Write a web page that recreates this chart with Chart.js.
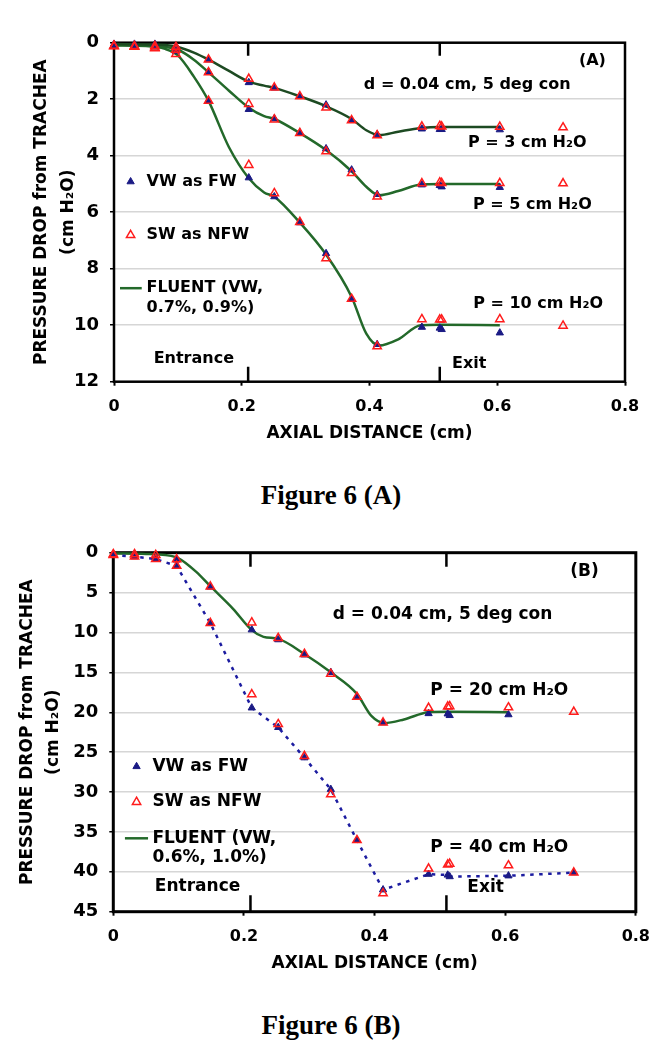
<!DOCTYPE html>
<html><head><meta charset="utf-8">
<script src="https://cdn.jsdelivr.net/npm/chart.js@4.4.1/dist/chart.umd.min.js"></script>
<style>
html,body{margin:0;padding:0;background:#fff;}
body{width:662px;height:1050px;position:relative;overflow:hidden;}
canvas{position:absolute;left:0;}
#cA{top:0;}
#cB{top:530px;}
.cap{position:absolute;left:0;width:662px;text-align:center;font-family:"Liberation Serif","Times New Roman",serif;font-weight:bold;font-size:27px;line-height:30px;}
</style></head><body>
<canvas id="cA" width="662" height="470"></canvas>
<canvas id="cB" width="662" height="470"></canvas>
<div class="cap" style="top:480px">Figure 6 (A)</div>
<div class="cap" style="top:1010px">Figure 6 (B)</div>
<script>
// ---------- DATA ----------
const xTicks = [0, 0.2, 0.4, 0.6, 0.8];
const yTicksA = [0, 2, 4, 6, 8, 10, 12];
const yTicksB = [0, 5, 10, 15, 20, 25, 30, 35, 40, 45];
const markX = [0.21, 0.51]; // Entrance / Exit

// Panel A measured points
const xA = [0, 0.032, 0.064, 0.097, 0.148, 0.211, 0.251, 0.291, 0.332, 0.372, 0.412, 0.482, 0.510, 0.513, 0.604, 0.703];
const vwA3  = [0.05, 0.05, 0.05, 0.12, 0.60, 1.41, 1.60, 1.90, 2.20, 2.75, 3.25, 3.05, 3.07, 3.07, 3.08, null];
const swA3  = [0.12, 0.12, 0.12, 0.15, 0.60, 1.28, 1.59, 1.90, 2.30, 2.75, 3.28, 2.97, 2.95, 2.97, 2.98, 3.00];
const vwA5  = [0.08, 0.10, 0.12, 0.20, 1.03, 2.36, 2.69, 3.19, 3.75, 4.50, 5.37, 5.03, 5.05, 5.10, 5.12, null];
const swA5  = [0.12, 0.15, 0.18, 0.25, 1.05, 2.17, 2.72, 3.20, 3.85, 4.62, 5.45, 4.98, 4.95, 4.97, 4.97, 4.98];
const vwA10 = [0.10, 0.12, 0.15, 0.30, 2.06, 4.78, 5.45, 6.37, 7.46, 9.07, 10.68, 10.07, 10.10, 10.15, 10.27, null];
const swA10 = [0.12, 0.15, 0.20, 0.40, 2.06, 4.33, 5.33, 6.35, 7.63, 9.07, 10.75, 9.79, 9.80, 9.80, 9.79, 10.02];

// Panel A FLUENT curves
const fluentXA = [0, 0.05, 0.08, 0.1, 0.125, 0.148, 0.18, 0.211, 0.235, 0.251, 0.291, 0.332, 0.372, 0.395, 0.415, 0.445, 0.48, 0.51, 0.604];
const fluentA3  = [0.05, 0.06, 0.08, 0.15, 0.35, 0.60, 1.00, 1.38, 1.52, 1.60, 1.90, 2.25, 2.70, 3.10, 3.27, 3.15, 3.02, 2.98, 2.98];
const fluentA5  = [0.08, 0.10, 0.15, 0.25, 0.60, 1.05, 1.70, 2.30, 2.60, 2.70, 3.20, 3.80, 4.55, 5.10, 5.40, 5.25, 5.02, 5.00, 5.00];
const fluentA10 = [0.10, 0.12, 0.22, 0.45, 1.20, 2.06, 3.70, 4.80, 5.30, 5.45, 6.37, 7.50, 9.00, 10.30, 10.72, 10.50, 10.00, 9.98, 10.00];

// Panel B measured points
const xB = [0, 0.0325, 0.065, 0.097, 0.1486, 0.212, 0.2525, 0.2926, 0.333, 0.373, 0.413, 0.4827, 0.512, 0.515, 0.605, 0.705];
const vwB20 = [0.3, 0.3, 0.6, 0.9, 4.3, 9.66, 10.9, 12.8, 15.0, 18.1, 21.3, 20.16, 20.2, 20.4, 20.3, null];
const swB20 = [0.2, 0.2, 0.3, 0.83, 4.25, 8.75, 10.7, 12.7, 15.2, 18.08, 21.3, 19.45, 19.3, 19.25, 19.4, 19.95];
const vwB40 = [0.3, 0.5, 0.8, 1.66, 8.83, 19.45, 21.9, 25.7, 29.66, 36.04, 42.25, 40.3, 40.4, 40.6, 40.5, 40.1];
const swB40 = [0.3, 0.5, 0.8, 1.66, 8.83, 17.75, 21.5, 25.5, 30.3, 36.04, 42.7, 39.6, 39.1, 39.0, 39.2, 40.1];

// Panel B FLUENT curve (P = 20)
const fluentXB = [0, 0.05, 0.08, 0.1, 0.127, 0.1486, 0.183, 0.212, 0.23, 0.2525, 0.2926, 0.333, 0.373, 0.3955, 0.415, 0.445, 0.4827, 0.512, 0.605];
const fluentB20 = [0.1, 0.15, 0.3, 0.7, 2.4, 4.2, 7.0, 9.7, 10.55, 10.8, 12.7, 15.0, 17.7, 20.5, 21.35, 20.9, 20.0, 19.95, 20.0];

// ---------- STYLE ----------
const FONT = '"DejaVu Sans", Verdana, sans-serif';
const NAVY = '#1a1a84';
const RED = '#ff1c1c';
const GREEN = '#23692a';
const GREEN_DARK = '#1d4a22';

Chart.defaults.font.family = FONT;
Chart.defaults.font.weight = 'bold';
Chart.defaults.color = '#000';

function pts(xs, ys) {
  const out = [];
  xs.forEach((x, i) => { if (ys[i] !== null && ys[i] !== undefined) out.push({x: x, y: ys[i]}); });
  return out;
}
function vwSet(xs, ys, extra) {
  return Object.assign({data: pts(xs, ys), pointStyle: 'triangle', pointRadius: 4.2,
    pointBackgroundColor: NAVY, pointBorderColor: NAVY, pointBorderWidth: 1, showLine: false,
    order: 1, clip: false}, extra || {});
}
function swSet(xs, ys) {
  return {data: pts(xs, ys), pointStyle: 'triangle', pointRadius: 4.8,
    pointBackgroundColor: 'rgba(255,255,255,0)', pointBorderColor: RED, pointBorderWidth: 1.5,
    showLine: false, order: 0, clip: false};
}
function lineSet(xs, ys, color) {
  return {data: pts(xs, ys), showLine: true, pointRadius: 0, borderColor: color, borderWidth: 2.5,
    cubicInterpolationMode: 'monotone', order: 2, clip: false};
}

function tri(ctx, x, y, r, fill, stroke, lw) {
  ctx.beginPath();
  for (let k = 0; k < 3; k++) {
    const a = k * 2 * Math.PI / 3;
    const px = x + Math.sin(a) * r, py = y - Math.cos(a) * r;
    if (k) ctx.lineTo(px, py); else ctx.moveTo(px, py);
  }
  ctx.closePath();
  if (fill) { ctx.fillStyle = fill; ctx.fill(); }
  if (stroke) { ctx.strokeStyle = stroke; ctx.lineWidth = lw; ctx.stroke(); }
}

function annotPlugin(o) {
  return {
    id: 'annot',
    beforeDatasetsDraw(chart) {
      const {ctx, chartArea: a, scales: {x}} = chart;
      ctx.save();
      ctx.strokeStyle = '#000';
      ctx.lineWidth = o.frameW;
      ctx.strokeRect(a.left, a.top, a.right - a.left, a.bottom - a.top);
      ctx.lineWidth = 2.5;
      markX.forEach(v => {
        const px = x.getPixelForValue(v);
        ctx.beginPath();
        ctx.moveTo(px, a.top); ctx.lineTo(px, a.top + o.markTop);
        ctx.moveTo(px, a.bottom); ctx.lineTo(px, a.bottom - o.markBot);
        ctx.stroke();
      });
      ctx.restore();
    },
    afterDatasetsDraw(chart) {
      const {ctx, scales: {x, y}} = chart;
      ctx.save();
      ctx.fillStyle = '#000';
      ctx.textBaseline = 'middle';
      ctx.font = 'bold ' + o.txtSize + 'px ' + FONT;
      ctx.textAlign = 'center';
      o.texts.forEach(t => ctx.fillText(t.s, x.getPixelForValue(t.x), y.getPixelForValue(t.y)));
      // legend
      ctx.textAlign = 'left';
      const L = o.legend;
      const tx = x.getPixelForValue(L.textX);
      const mx = x.getPixelForValue(L.markX);
      let py = y.getPixelForValue(L.vwY);
      tri(ctx, mx, py, 4.2, NAVY, NAVY, 1);
      ctx.fillStyle = '#000';
      ctx.fillText('VW as FW', tx, py);
      py = y.getPixelForValue(L.swY);
      tri(ctx, mx, py, 4.8, null, RED, 1.5);
      ctx.fillStyle = '#000';
      ctx.fillText('SW as NFW', tx, py);
      py = y.getPixelForValue(L.flY);
      ctx.strokeStyle = GREEN; ctx.lineWidth = 2.5;
      ctx.beginPath();
      ctx.moveTo(x.getPixelForValue(L.lineX1), py); ctx.lineTo(x.getPixelForValue(L.lineX2), py);
      ctx.stroke();
      ctx.fillText(L.flText[0], tx, py);
      ctx.fillText(L.flText[1], tx, y.getPixelForValue(L.flY2));
      ctx.restore();
    }
  };
}

function makeChart(id, o) {
  return new Chart(document.getElementById(id), {
    type: 'scatter',
    data: {datasets: o.datasets},
    options: {
      responsive: false, animation: false, events: [],
      layout: {padding: {top: o.padTop, right: o.padRight, left: 0, bottom: 0}},
      plugins: {legend: {display: false}, tooltip: {enabled: false}},
      scales: {
        x: {
          type: 'linear', min: 0, max: 0.8,
          afterBuildTicks: s => { s.ticks = xTicks.map(v => ({value: v})); },
          afterFit: s => { s.height = o.xH; },
          grid: {drawOnChartArea: false, drawTicks: true, tickLength: 4, tickColor: '#000', tickWidth: 2},
          border: {display: false},
          ticks: {font: {size: 16, weight: 'bold'}, color: '#000', padding: 12, maxRotation: 0, autoSkip: false,
                  callback: v => String(v)},
          title: {display: true, text: 'AXIAL DISTANCE (cm)', color: '#000',
                  font: {size: 17, weight: 'bold', lineHeight: 1.2}, padding: {top: 0, bottom: 25.8}}
        },
        y: {
          type: 'linear', reverse: true, min: 0, max: o.yMax,
          afterBuildTicks: s => { s.ticks = o.yTicks.map(v => ({value: v})); },
          afterFit: s => { s.width = o.yW; },
          grid: {color: '#d6d6d6', lineWidth: 1.5, drawTicks: true, tickLength: 4, tickColor: '#000', tickWidth: 1.5},
          border: {display: false},
          ticks: {font: {size: 18, weight: 'bold'}, color: '#000', padding: 11, autoSkip: false,
                  callback: v => String(v)},
          title: {display: true, text: ['PRESSURE DROP from TRACHEA', '(cm H\u2082O)'], color: '#000',
                  font: {size: 17, weight: 'bold', lineHeight: 1.56}, padding: {top: o.yTitlePad, bottom: 0}}
        }
      }
    },
    plugins: [annotPlugin(o)]
  });
}

makeChart('cA', {
  padTop: 42.7, padRight: 37, xH: 88.3, yW: 114, yMax: 12, yTicks: yTicksA, yTitlePad: 28.6,
  frameW: 2.5, markTop: 13, markBot: 15, txtSize: 16,
  datasets: [
    lineSet(fluentXA, fluentA3, GREEN_DARK),
    lineSet(fluentXA, fluentA5, GREEN),
    lineSet(fluentXA, fluentA10, GREEN),
    vwSet(xA, vwA3), vwSet(xA, vwA5), vwSet(xA, vwA10),
    swSet(xA, swA3), swSet(xA, swA5), swSet(xA, swA10)
  ],
  texts: [
    {s: '(A)', x: 0.749, y: 0.65},
    {s: 'd = 0.04 cm, 5 deg con', x: 0.553, y: 1.5},
    {s: 'P = 3 cm H\u2082O', x: 0.647, y: 3.56},
    {s: 'P = 5 cm H\u2082O', x: 0.655, y: 5.75},
    {s: 'P = 10 cm H\u2082O', x: 0.664, y: 9.25},
    {s: 'Entrance', x: 0.125, y: 11.2},
    {s: 'Exit', x: 0.556, y: 11.37}
  ],
  legend: {markX: 0.026, textX: 0.051, vwY: 4.92, swY: 6.81, flY: 8.69, flY2: 9.37,
           lineX1: 0.0094, lineX2: 0.0434, flText: ['FLUENT (VW,', '0.7%, 0.9%)']}
});

makeChart('cB', {
  padTop: 22.7, padRight: 23, xH: 88.3, yW: 113.3, yMax: 45, yTicks: yTicksB, yTitlePad: 14.2,
  frameW: 3, markTop: 14, markBot: 16.5, txtSize: 17,
  datasets: [
    lineSet(fluentXB, fluentB20, GREEN),
    vwSet(xB, vwB20),
    vwSet(xB, vwB40, {showLine: true, borderColor: '#1c1ca0', borderWidth: 2.5, borderDash: [3.5, 5.5], tension: 0}),
    swSet(xB, swB20), swSet(xB, swB40)
  ],
  texts: [
    {s: '(B)', x: 0.7215, y: 2.375},
    {s: 'd = 0.04 cm, 5 deg con', x: 0.504, y: 7.79},
    {s: 'P = 20 cm H\u2082O', x: 0.591, y: 17.25},
    {s: 'P = 40 cm H\u2082O', x: 0.591, y: 36.95},
    {s: 'Entrance', x: 0.129, y: 41.9},
    {s: 'Exit', x: 0.570, y: 41.95}
  ],
  legend: {markX: 0.0356, textX: 0.0599, vwY: 26.8, swY: 31.25, flY: 35.8, flY2: 38.2,
           lineX1: 0.0178, lineX2: 0.0532, flText: ['FLUENT (VW,', '0.6%, 1.0%)']}
});
</script>
</body></html>
